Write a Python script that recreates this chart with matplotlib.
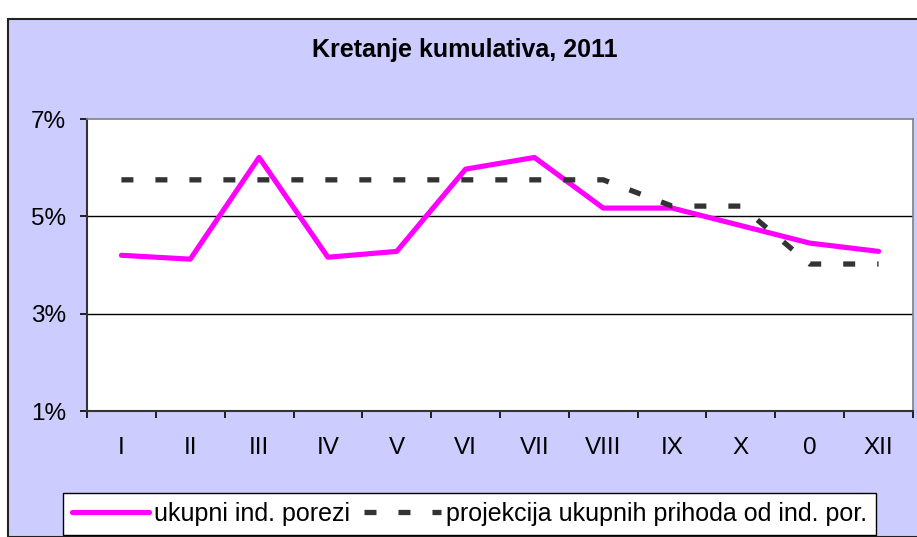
import matplotlib
matplotlib.use("Agg")
import matplotlib.pyplot as plt
from matplotlib.patches import Rectangle
import numpy as np

months = ["I", "II", "III", "IV", "V", "VI", "VII", "VIII", "IX", "X", "0", "XII"]
ukupni = [4.20, 4.12, 6.21, 4.16, 4.28, 5.97, 6.21, 5.17, 5.17, 4.81, 4.45, 4.28]
projekcija = [5.75, 5.75, 5.75, 5.75, 5.75, 5.75, 5.75, 5.75, 5.21, 5.21, 4.02, 4.02]
yticks = [1, 3, 5, 7]
ytick_labels = ["1%", "3%", "5%", "7%"]

plt.rcParams['font.family'] = ['Liberation Sans', 'DejaVu Sans']

W, H = 917, 537
fig = plt.figure(figsize=(W / 100, H / 100), dpi=100, facecolor="white")

# outer chart area
bg = Rectangle((8 / W, 0), 1 - 8 / W + 0.01, (H - 19) / H, transform=fig.transFigure,
               facecolor="#CCCCFF", edgecolor="#222222", linewidth=1.5, zorder=-5)
fig.patches.append(bg)

ax = fig.add_axes([87 / W, (H - 411) / H, (913 - 87) / W, (411 - 119) / H])
ax.set_zorder(1)
ax.set_facecolor("white")

x = np.arange(len(months))
ax.plot(x, ukupni, color="#FF00FF", lw=3.7, solid_capstyle="round",
        solid_joinstyle="round", label="ukupni ind. porezi", zorder=3)
ax.plot(x, projekcija, color="#333333", lw=3.8, linestyle=(0, (2.27, 4.17)),
        dash_capstyle="butt", label="projekcija ukupnih prihoda od ind. por.", zorder=4)

ax.set_xlim(-0.5, len(months) - 0.5)
ax.set_ylim(1, 7)

ax.set_yticks(yticks)
ax.set_yticklabels(ytick_labels)
ax.tick_params(axis="y", length=5, width=1.2, pad=10, labelsize=17.5, colors="black")

ax.set_xticks(x)
ax.set_xticklabels(months)
ax.set_xticks(np.arange(len(months) + 1) - 0.5, minor=True)
ax.tick_params(axis="x", which="major", length=0, pad=19, labelsize=17.5)
ax.tick_params(axis="x", which="minor", length=5, width=1.2, color="black")

for yv in [3, 5]:
    ax.axhline(yv, color="black", lw=1.0, zorder=1)

for s in ["left", "bottom"]:
    ax.spines[s].set_color("#333333")
    ax.spines[s].set_linewidth(1.5)
for s in ["top", "right"]:
    ax.spines[s].set_color("#808080")
    ax.spines[s].set_linewidth(1.2)

fig.text(465 / W, 1 - 50 / H, "Kretanje kumulativa, 2011", ha="center", va="center",
         fontsize=18, fontweight="bold")

leg = fig.legend(loc="center", bbox_to_anchor=(469.5 / W, 1 - 514 / H), ncol=2,
                 fontsize=18, frameon=True, fancybox=False, edgecolor="black",
                 framealpha=1, handlelength=3.1, handletextpad=0.2,
                 columnspacing=0.55, borderpad=0.35, borderaxespad=0)
leg.get_frame().set_linewidth(1.0)

fig.savefig("out.png", dpi=100, facecolor="white")
